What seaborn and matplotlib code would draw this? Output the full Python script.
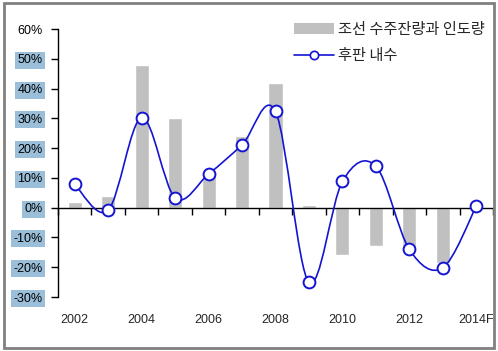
import numpy as np
import pandas as pd
import matplotlib
matplotlib.use('Agg')
import matplotlib.pyplot as plt
import seaborn as sns
from matplotlib.path import Path
from matplotlib.patches import PathPatch, Rectangle
from matplotlib.ticker import FixedLocator, FuncFormatter

# 데이터
years = ['2002', '2003', '2004', '2005', '2006', '2007', '2008',
         '2009', '2010', '2011', '2012', '2013', '2014F']
backlog = [2, 4, 48, 30, 12, 24, 42, 1, -16, -13, -14, -18.5, 2]
plate = [7.8, -0.9, 30.2, 3.3, 11.3, 21.1, 32.3, -25.1, 8.8, 13.9, -14, -20.2, 0.5]
bar_label = '조선 수주잔량과 인도량'
line_label = '후판 내수'

sns.set_style('white')
plt.rcParams['font.family'] = ['Liberation Sans', 'Noto Sans CJK KR']

bar_color = '#C0C0C0'
line_color = '#1414D2'
box_color = '#9BBFD9'

fig = plt.figure(figsize=(4.98, 3.51), dpi=100)
ax = fig.add_axes([58 / 498, 1 - 297 / 351, 435 / 498, 268 / 351])

df = pd.DataFrame({'year': years, 'backlog': backlog, 'plate': plate})
sns.barplot(data=df, x='year', y='backlog', color=bar_color, saturation=1,
            width=0.42, ax=ax)

# 엑셀식 부드러운 선 (Catmull-Rom -> Bezier)
xs = np.arange(len(years), dtype=float)
ys = np.array(plate, dtype=float)
verts = [(xs[0], ys[0])]
codes = [Path.MOVETO]
for i in range(len(xs) - 1):
    p0 = np.array([xs[max(i - 1, 0)], ys[max(i - 1, 0)]])
    p1 = np.array([xs[i], ys[i]])
    p2 = np.array([xs[i + 1], ys[i + 1]])
    p3 = np.array([xs[min(i + 2, len(xs) - 1)], ys[min(i + 2, len(xs) - 1)]])
    c1 = p1 + (p2 - p0) / 6
    c2 = p2 - (p3 - p1) / 6
    verts += [tuple(c1), tuple(c2), tuple(p2)]
    codes += [Path.CURVE4] * 3
ax.add_patch(PathPatch(Path(verts, codes), fill=False, edgecolor=line_color,
                       lw=1.2, zorder=3))
ax.plot(xs, ys, 'o', mfc='white', mec=line_color, ms=8.5, mew=1.4, zorder=4)

ax.set_xlim(-0.5, len(years) - 0.5)
ax.set_ylim(-30, 60)
ax.set_xlabel('')
ax.set_ylabel('')

# y축
ax.set_yticks(range(-30, 61, 10))
ax.yaxis.set_major_formatter(FuncFormatter(lambda v, p: '%d%%' % v))
ax.tick_params(axis='y', direction='out', length=5, width=1, pad=6,
               labelsize=9, left=True, colors='black')
for lbl in ax.get_yticklabels():
    if lbl.get_text() != '60%':
        lbl.set_bbox(dict(boxstyle='square,pad=0.2', fc=box_color, ec='none'))

# 0선 + 눈금
for s in ['top', 'right']:
    ax.spines[s].set_visible(False)
ax.spines['left'].set_color('black')
ax.spines['left'].set_linewidth(1)
ax.spines['bottom'].set_position(('data', 0))
ax.spines['bottom'].set_color('black')
ax.spines['bottom'].set_linewidth(1)
ax.xaxis.set_major_locator(FixedLocator(np.arange(-0.5, len(years), 1.0)))
ax.set_xticklabels([])
ax.tick_params(axis='x', direction='out', length=5, width=1, bottom=True,
               colors='black')

sec = ax.secondary_xaxis(0)
sec.set_xticks(xs)
sec.set_xticklabels([y if i % 2 == 0 else '' for i, y in enumerate(years)])
sec.tick_params(length=0, pad=12, labelsize=9)
sec.spines['bottom'].set_visible(False)

# 범례
h_bar = Rectangle((0, 0), 1, 1, fc=bar_color, ec='none')
h_line = plt.Line2D([], [], color=line_color, lw=1.2, marker='o', mfc='white',
                    mec=line_color, ms=6, mew=1.2)
fig.legend([h_bar, h_line], [bar_label, line_label], loc='upper left',
           bbox_to_anchor=(294 / 498, 1 - 21 / 351), frameon=False,
           prop={'family': 'Noto Sans CJK KR', 'size': 11},
           handlelength=2.6, handleheight=0.75, handletextpad=0.3,
           labelspacing=0.6, borderpad=0, borderaxespad=0)

# 바깥 테두리
fig.patches.append(Rectangle((3.5 / 498, 3 / 351), 490.5 / 498, 345 / 351,
                             transform=fig.transFigure, fill=False,
                             ec='#808080', lw=2))

fig.savefig('out.png', dpi=100)
